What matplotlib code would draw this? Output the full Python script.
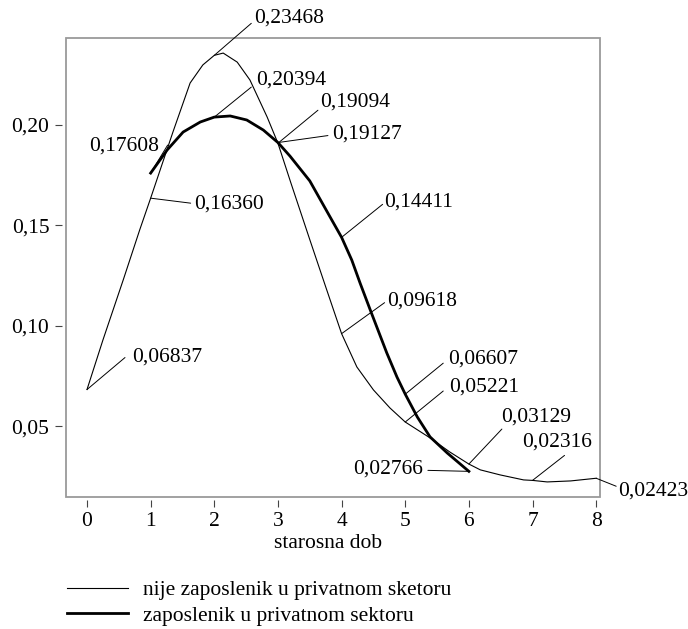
import matplotlib
matplotlib.use("Agg")
import matplotlib.pyplot as plt
from matplotlib.patches import Rectangle

# nije zaposlenik u privatnom sektoru (thin)
thin_x = [0, 0.25, 0.57, 0.83, 1, 1.35, 1.62, 1.82, 2, 2.14, 2.36, 2.56, 2.83, 3, 3.2,
          3.5, 3.75, 4, 4.24, 4.5, 4.76, 5, 5.39, 5.7, 6, 6.18, 6.49, 6.86, 7, 7.23, 7.6, 8]
thin_y = [0.06837, 0.0930, 0.1230, 0.1480, 0.16360, 0.1965, 0.2209, 0.2299, 0.23468, 0.2358,
          0.2313, 0.2224, 0.2040, 0.19094, 0.1715, 0.1430, 0.1195, 0.09618, 0.0796, 0.0682,
          0.0592, 0.05221, 0.0443, 0.0373, 0.03129, 0.0284, 0.0259, 0.0234, 0.02316, 0.0224,
          0.0229, 0.02423]

# zaposlenik u privatnom sektoru (thick)
thick_x = [1, 1.26, 1.51, 1.78, 2, 2.25, 2.51, 2.77, 3, 3.19, 3.5, 3.82, 4, 4.16, 4.29,
           4.45, 4.71, 4.87, 5, 5.19, 5.39, 5.66, 6]
thick_y = [0.17608, 0.1876, 0.1965, 0.2015, 0.20394, 0.2045, 0.2025, 0.1975, 0.19127, 0.1845,
           0.1722, 0.1542, 0.14411, 0.1328, 0.1214, 0.1080, 0.0866, 0.0746, 0.06607, 0.0547,
           0.0448, 0.0368, 0.02766]

labels = ["nije zaposlenik u privatnom sketoru", "zaposlenik u privatnom sektoru"]
x_ticks = [0, 1, 2, 3, 4, 5, 6, 7, 8]
y_ticks = [0.05, 0.10, 0.15, 0.20]

# x positions that get a value label
thin_marked = [0, 1, 2, 3, 4, 5, 6, 7, 8]
thick_marked = [1, 2, 3, 4, 5, 6]


def fmt(v, nd):
    return f"{v:.{nd}f}".replace(".", ",")


def main():
    plt.rcParams['font.family'] = ['Liberation Serif', 'DejaVu Serif']
    fs = 15.5
    fig = plt.figure(figsize=(6.88, 6.29), dpi=100)
    ax = fig.add_axes([66 / 688, 1 - 497 / 629, 534 / 688, 459 / 629])

    l1, = ax.plot(thin_x, thin_y, color='k', lw=0.8, clip_on=False)
    l2, = ax.plot(thick_x, thick_y, color='k', lw=2.0, clip_on=False)

    ax.set_xlim(-0.33, 8.06)
    ax.set_ylim(0.0149, 0.2433)
    ax.set_xticks(x_ticks)
    ax.set_xticklabels([str(t) for t in x_ticks])
    ax.set_yticks(y_ticks)
    ax.set_yticklabels([fmt(t, 2) for t in y_ticks])

    for s in ax.spines.values():
        s.set_visible(False)
    ax.spines['left'].set_position(('outward', 3))
    ax.spines['bottom'].set_position(('outward', 2))
    ax.tick_params(direction='out', length=5, width=0.8, color='#444444', pad=4,
                   labelsize=fs)
    ax.add_patch(Rectangle((0, 0), 1, 1, transform=ax.transAxes, fill=False,
                           ec='#9a9a9a', lw=1.3, clip_on=False))

    # leader end offset, text offset (pixels), alignment
    thin_pos = {
        0: ((38, 32), (45, 32), 'left'),
        1: ((40, -5), (43, -6), 'left'),
        2: ((37, 32), (40, 37), 'left'),
        3: ((40, 33), (42, 41), 'left'),
        4: ((43, 31), (46, 33), 'left'),
        5: ((38, 31), (44, 35), 'left'),
        6: ((33, 35), (32, 47), 'left'),
        7: ((32, 25), (-10, 38), 'left'),
        8: ((20, -8), (22, -13), 'left'),
    }
    thick_pos = {
        1: ((17, 28), (8, 27), 'right'),
        2: ((37, 30), (42, 37), 'left'),
        3: ((50, 7), (54, 9), 'left'),
        4: ((41, 33), (43, 35), 'left'),
        5: ((38, 31), (43, 35), 'left'),
        6: ((-41, 1), (-46, 2), 'right'),
    }

    for xs, ys, marked, pos in [(thin_x, thin_y, thin_marked, thin_pos),
                                (thick_x, thick_y, thick_marked, thick_pos)]:
        for xm in marked:
            v = ys[xs.index(xm)]
            lead, toff, ha = pos[xm]
            ax.annotate('', xy=(xm, v), xytext=lead, textcoords='offset pixels',
                        arrowprops=dict(arrowstyle='-', lw=0.7, color='k',
                                        shrinkA=0, shrinkB=0),
                        annotation_clip=False)
            ax.annotate(fmt(v, 5), xy=(xm, v), xytext=toff, textcoords='offset pixels',
                        ha=ha, va='center', fontsize=fs, annotation_clip=False)

    fig.text(328 / 688, 1 - 543 / 629, 'starosna dob', ha='center', va='center', fontsize=fs)

    fig.legend([l1, l2], labels, loc='upper left', bbox_to_anchor=(67 / 688, 1 - 580 / 629),
               frameon=False, fontsize=fs, handlelength=2.85, handletextpad=0.7,
               borderpad=0, borderaxespad=0, labelspacing=0.25)

    fig.savefig('out.png', dpi=100)


if __name__ == "__main__":
    main()
